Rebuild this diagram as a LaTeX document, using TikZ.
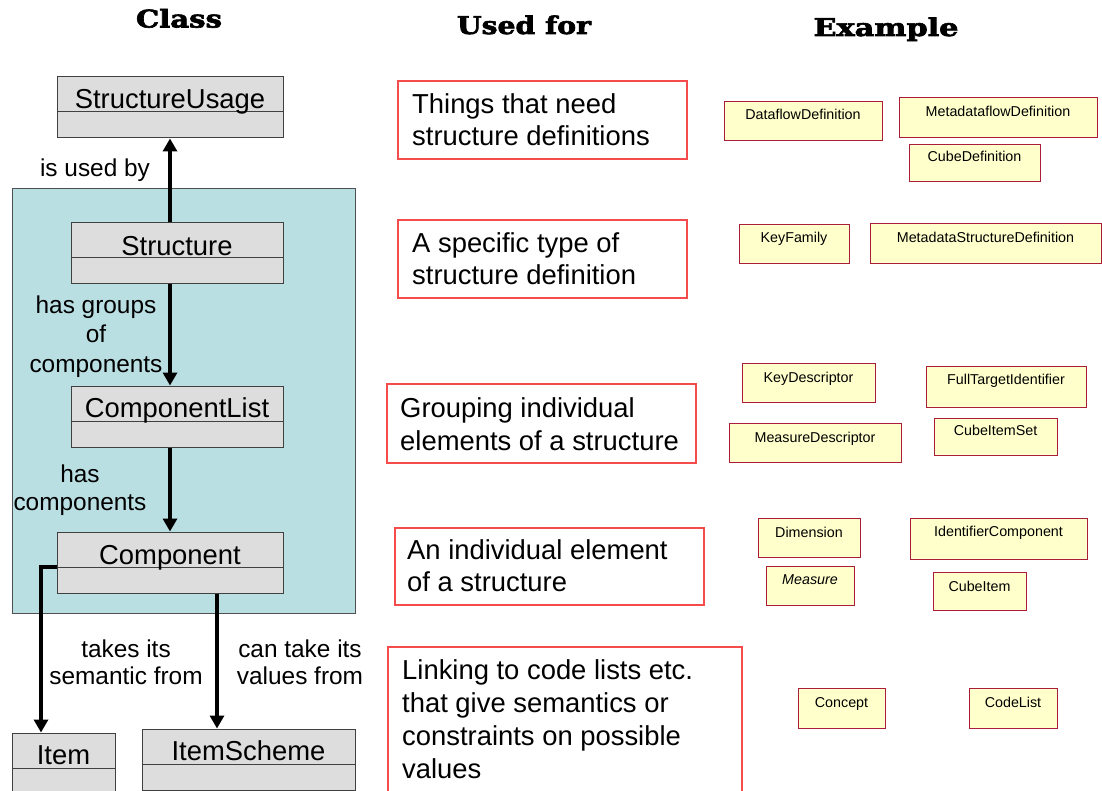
\documentclass[tikz,border=0pt]{standalone}
\usepackage{graphicx}
\usepackage{fontspec}
\setmainfont{Liberation Sans}
\newfontfamily\headfont{DejaVu Serif Bold}[FakeBold=2.5]
\usetikzlibrary{arrows.meta,fit,calc}

\definecolor{umlfill}{RGB}{221,221,221}
\definecolor{umlline}{RGB}{64,64,64}
\definecolor{pkgfill}{RGB}{185,223,227}
\definecolor{pkgline}{RGB}{80,80,80}
\definecolor{useline}{RGB}{245,75,75}
\definecolor{exfill}{RGB}{255,255,204}
\definecolor{exline}{RGB}{170,30,60}

\tikzset{
  pkg/.style={draw=pkgline, fill=pkgfill, line width=1pt, inner sep=0pt},
  umlbox/.style={draw=umlline, fill=umlfill, line width=1pt, inner sep=0pt},
  umldiv/.style={draw=umlline, line width=1pt},
  umltext/.style={font=\fontsize{27.4}{32}\selectfont, inner sep=0pt, anchor=base},
  lbl/.style={align=center, inner sep=0pt, anchor=base},
  purpose/.style={draw=useline, fill=white, line width=1.2pt, inner sep=0pt},
  purposetext/.style={align=left, inner sep=0pt, anchor=base west},
  exbox/.style={draw=exline, fill=exfill, line width=1pt, inner sep=0pt},
  extext/.style={font=\fontsize{14.3}{17}\selectfont, inner sep=0pt, anchor=base},
  head/.style={inner sep=0pt, anchor=base},
  arr/.style={line width=3.6pt, -{Triangle[width=14pt,length=13pt]}},
}

% UML class: name, x1, y1, x2, y2, divider y, text baseline y, text
\newcommand\umlclass[8]{%
  \node[umlbox, fit={(#2,#3) (#4,#5)}] (#1) {};
  \draw[umldiv] (#1.west |- 0,#6) -- (#1.east |- 0,#6);
  \node[umltext] (#1-t) at (#1.north |- 0,#7) {#8};
}
% example class box: name, x1, y1, x2, y2, text baseline y, text
\newcommand\examplebox[7]{%
  \node[exbox, fit={(#2,#3) (#4,#5)}] (#1) {};
  \node[extext] (#1-t) at (#1.north |- 0,#6) {#7};
}
% purpose box: name, x1, y1, x2, y2, text x, last baseline y, line skip, text
\newcommand\purposebox[9]{%
  \node[purpose, fit={(#2,#3) (#4,#5)}] (#1) {};
  \node[purposetext, font=\fontsize{27.4}{#8}\selectfont] (#1-t) at (#6,#7) {#9};
}

\begin{document}
\begin{tikzpicture}[x=1pt,y=-1pt]
\useasboundingbox (0,0) rectangle (1102,791);
\clip (0,0) rectangle (1102,791);

% column headings
\node[head] (h1) at (179,27.5) {\resizebox{86pt}{18.5pt}{\headfont Class}};
\node[head] (h2) at (524,34) {\resizebox{134pt}{18.5pt}{\headfont Used for}};
\node[head] (h3) at (886,36) {\resizebox{145pt}{18.5pt}{\headfont Example}};

% package holding the structure classes
\node[pkg, fit={(12,189) (355,613)}] (pkg) {};

% class column
\umlclass{su}{57}{77}{283}{138}{112}{109}{StructureUsage}
\umlclass{st}{71}{223}{283}{284}{258}{256}{Structure}
\umlclass{cl}{71}{386}{283}{447}{421}{417}{ComponentList}
\umlclass{co}{57}{532}{283}{593}{567}{564}{Component}
\umlclass{it}{12}{733}{115}{810}{768}{764}{Item}
\umlclass{is}{142}{729}{355}{790}{764}{760}{ItemScheme}

% associations
\draw[arr] (st.north -| su.south) -- (su.south);
\draw[arr] (st.south -| su.south) -- (cl.north -| su.south);
\draw[arr] (cl.south -| co.north) -- (co.north);
\coordinate (bend) at (41,567);
\draw[arr] (co.west |- bend) -- (bend) -- (bend |- it.north);
\coordinate (vs) at ([xshift=47pt]co.south);
\draw[arr] (vs) -- (vs |- is.north);

% association labels (anchored on the baseline of the last line)
\node[lbl, font=\fontsize{24.4}{29}\selectfont] (l1) at (95,177) {is used by};
\node[lbl, font=\fontsize{24.4}{29.5}\selectfont] (l2) at (96,372) {has groups\\of\\components};
\node[lbl, font=\fontsize{24.4}{28}\selectfont] (l3) at (80,510) {has\\components};
\node[lbl, font=\fontsize{24.4}{27}\selectfont] (l4) at (126,684) {takes its\\semantic from};
\node[lbl, font=\fontsize{24.4}{27}\selectfont] (l5) at (300,684) {can take its\\values from};

% purpose column
\purposebox{u1}{398}{81}{687}{159}{412}{146}{32}{Things that need\\structure definitions}
\purposebox{u2}{398}{220}{687}{298}{412}{285}{32}{A specific type of\\structure definition}
\purposebox{u3}{387}{384}{696}{463}{400}{450}{33}{Grouping individual\\elements of a structure}
\purposebox{u4}{395}{528}{704}{605}{407}{591}{32}{An individual element\\of a structure}
\purposebox{u5}{388}{647}{742}{830}{402}{778}{33}{Linking to code lists etc.\\that give semantics or\\constraints on possible\\values}

% example column
\examplebox{e1}{724}{102}{882}{141}{120}{DataflowDefinition}
\examplebox{e2}{899}{98}{1097}{138}{117}{MetadataflowDefinition}
\examplebox{e3}{909}{145}{1040}{182}{162}{CubeDefinition}
\examplebox{e4}{739}{225}{849}{264}{243}{KeyFamily}
\examplebox{e5}{870}{224}{1101}{264}{243}{MetadataStructureDefinition}
\examplebox{e6}{742}{363}{875}{402}{382}{KeyDescriptor}
\examplebox{e7}{926}{366}{1086}{407}{384}{FullTargetIdentifier}
\examplebox{e8}{729}{423}{901}{462}{442}{MeasureDescriptor}
\examplebox{e9}{934}{418}{1057}{455}{435}{CubeItemSet}
\examplebox{e10}{758}{518}{860}{557}{537}{Dimension}
\examplebox{e11}{910}{518}{1087}{559}{536}{IdentifierComponent}
\examplebox{e12}{766}{566}{854}{605}{584}{\itshape Measure}
\examplebox{e13}{933}{572}{1026}{610}{591}{CubeItem}
\examplebox{e14}{798}{688}{885}{728}{707}{Concept}
\examplebox{e15}{969}{688}{1057}{728}{707}{CodeList}
\end{tikzpicture}
\end{document}
